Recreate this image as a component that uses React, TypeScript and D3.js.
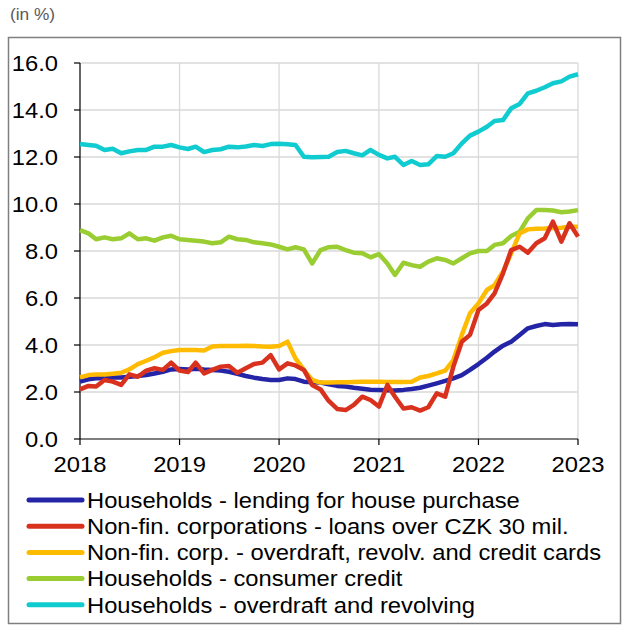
import React from 'react';
import * as d3 from 'd3';

// monthly interest rates, Jan 2018 - Jan 2023 (in %)
const start = new Date(2018, 0, 1);
const end = new Date(2023, 0, 1);
const months = d3.timeMonth.range(start, d3.timeMonth.offset(end, 1));

const housePurchase = [
  2.44, 2.54, 2.58, 2.58, 2.62, 2.62, 2.65, 2.68, 2.72, 2.79, 2.86, 2.96,
  2.98, 2.96, 2.99, 2.96, 2.94, 2.91, 2.86, 2.77, 2.68, 2.61, 2.55, 2.51,
  2.51, 2.58, 2.55, 2.44, 2.41, 2.40, 2.33, 2.26, 2.23, 2.18, 2.14, 2.10,
  2.09, 2.07, 2.06, 2.09, 2.13, 2.18, 2.27, 2.37, 2.47, 2.58, 2.72, 2.94,
  3.19, 3.46, 3.72, 3.97, 4.14, 4.43, 4.71, 4.81, 4.89, 4.85, 4.88, 4.89,
  4.88,
];
const corpLoans = [
  2.11, 2.26, 2.23, 2.51, 2.44, 2.30, 2.75, 2.65, 2.91, 3.01, 2.94, 3.25,
  2.91, 2.85, 3.25, 2.79, 2.94, 3.08, 3.11, 2.82, 3.01, 3.19, 3.25, 3.57,
  2.96, 3.22, 3.13, 2.94, 2.30, 2.11, 1.62, 1.28, 1.23, 1.45, 1.80, 1.66,
  1.38, 2.30, 1.80, 1.30, 1.35, 1.21, 1.35, 1.94, 1.80, 3.08, 4.14, 4.43,
  5.49, 5.77, 6.20, 7.05, 8.04, 8.18, 7.93, 8.33, 8.54, 9.25, 8.40, 9.18,
  8.61,
];
const corpOverdraft = [
  2.62, 2.72, 2.75, 2.74, 2.78, 2.82, 2.96, 3.19, 3.33, 3.48, 3.67, 3.74,
  3.79, 3.79, 3.79, 3.77, 3.94, 3.96, 3.96, 3.96, 3.97, 3.96, 3.94, 3.93,
  3.96, 4.14, 3.43, 2.94, 2.51, 2.40, 2.40, 2.41, 2.41, 2.43, 2.44, 2.44,
  2.44, 2.43, 2.43, 2.43, 2.44, 2.62, 2.68, 2.79, 2.91, 3.36, 4.43, 5.35,
  5.77, 6.34, 6.55, 7.12, 7.90, 8.75, 8.92, 8.95, 8.96, 8.98, 8.99, 9.03,
  9.03,
];
const consumerCredit = [
  8.89, 8.75, 8.50, 8.58, 8.50, 8.54, 8.75, 8.50, 8.54, 8.44, 8.58, 8.65,
  8.50, 8.47, 8.44, 8.40, 8.33, 8.37, 8.61, 8.50, 8.47, 8.37, 8.33, 8.28,
  8.18, 8.07, 8.16, 8.07, 7.47, 8.04, 8.16, 8.18, 8.04, 7.93, 7.90, 7.73,
  7.87, 7.47, 6.98, 7.50, 7.40, 7.33, 7.55, 7.69, 7.62, 7.47, 7.69, 7.90,
  8.00, 8.00, 8.26, 8.33, 8.64, 8.82, 9.39, 9.74, 9.74, 9.72, 9.65, 9.68,
  9.74,
];
const hhOverdraft = [
  12.55, 12.51, 12.48, 12.30, 12.35, 12.16, 12.24, 12.30, 12.30, 12.44, 12.44, 12.51,
  12.41, 12.34, 12.44, 12.21, 12.30, 12.33, 12.44, 12.41, 12.45, 12.51, 12.47, 12.55,
  12.56, 12.54, 12.51, 12.01, 11.99, 12.00, 12.01, 12.21, 12.26, 12.16, 12.07, 12.30,
  12.09, 11.94, 12.01, 11.66, 11.83, 11.66, 11.69, 12.04, 12.01, 12.16, 12.58, 12.91,
  13.08, 13.29, 13.53, 13.57, 14.07, 14.26, 14.71, 14.82, 14.97, 15.14, 15.22, 15.42,
  15.52,
];

const seriesNames = [
  'Households - lending for house purchase',
  'Non-fin. corporations - loans over CZK 30 mil.',
  'Non-fin. corp. - overdraft, revolv. and credit cards',
  'Households - consumer credit',
  'Households - overdraft and revolving',
];
const seriesColors = ['#2424a6', '#d8321f', '#ffbb00', '#9acd32', '#10cbcf'];
const seriesValues = [housePurchase, corpLoans, corpOverdraft, consumerCredit, hhOverdraft];

const yTicks = [0, 2, 4, 6, 8, 10, 12, 14, 16];
const xTicks = [2018, 2019, 2020, 2021, 2022, 2023];

const FONT = '"Liberation Sans", Arial, sans-serif';
const STRETCH = 1.08; // the source text is a bit wider than Arial

function Label({ x, y, anchor = 'start', size = 22, fill = '#000', children }: any) {
  return (
    <text transform={`translate(${x},${y}) scale(${STRETCH},1)`} textAnchor={anchor}
      fontSize={size} fill={fill}>{children}</text>
  );
}

export default function App() {
  const width = 625;
  const height = 626;
  const left = 80, right = 578, top = 63, bottom = 439;

  const x = d3.scaleTime().domain([start, end]).range([left, right]);
  const y = d3.scaleLinear().domain([0, 16]).range([bottom, top]);

  const line = d3.line<number>()
    .x((d, i) => x(months[i]))
    .y((d) => y(d));

  // draw order: light ones at the back
  const drawOrder = [4, 3, 0, 2, 1];

  return (
    <svg width={width} height={height} style={{ position: 'absolute', left: 0, top: 0 }}
      fontFamily={FONT}>
      <rect x={0} y={0} width={width} height={height} fill='#fff' />
      <Label x={10} y={20} size={16} fill='#595959'>(in %)</Label>
      <rect x={8.5} y={37.5} width={612} height={586} fill='none' stroke='#7f7f7f' strokeWidth={1.5} />

      {/* grid */}
      {yTicks.slice(1).map((t) => (
        <line key={'gy' + t} x1={left} x2={right} y1={y(t)} y2={y(t)} stroke='#d9d9d9' strokeWidth={1.3} />
      ))}
      {xTicks.slice(1).map((t) => {
        const px = x(new Date(t, 0, 1));
        return <line key={'gx' + t} x1={px} x2={px} y1={top} y2={bottom} stroke='#d9d9d9' strokeWidth={1.3} />;
      })}

      {/* axes */}
      <line x1={left} x2={left} y1={top} y2={bottom} stroke='#000' strokeWidth={1.2} />
      <line x1={left} x2={right} y1={bottom} y2={bottom} stroke='#000' strokeWidth={1.2} />
      {yTicks.map((t) => (
        <g key={'ty' + t}>
          <line x1={left - 6} x2={left} y1={y(t)} y2={y(t)} stroke='#000' strokeWidth={1.2} />
          <Label x={58} y={y(t) + 7.8} anchor='end'>{t.toFixed(1)}</Label>
        </g>
      ))}
      {xTicks.map((t) => {
        const px = x(new Date(t, 0, 1));
        return (
          <g key={'tx' + t}>
            <line x1={px} x2={px} y1={bottom} y2={bottom + 6} stroke='#000' strokeWidth={1.2} />
            <Label x={px} y={472} anchor='middle'>{t}</Label>
          </g>
        );
      })}

      {/* series */}
      {drawOrder.map((k) => (
        <path key={'s' + k} d={line(seriesValues[k]) || ''} fill='none'
          stroke={seriesColors[k]} strokeWidth={4.5} strokeLinejoin='round' />
      ))}

      {/* legend */}
      {seriesNames.map((name, k) => {
        const ly = 500 + k * 26.2;
        return (
          <g key={'l' + k}>
            <line x1={29} x2={82} y1={ly} y2={ly} stroke={seriesColors[k]} strokeWidth={5} strokeLinecap='round' />
            <Label x={87} y={ly + 7.8}>{name}</Label>
          </g>
        );
      })}
    </svg>
  );
}
